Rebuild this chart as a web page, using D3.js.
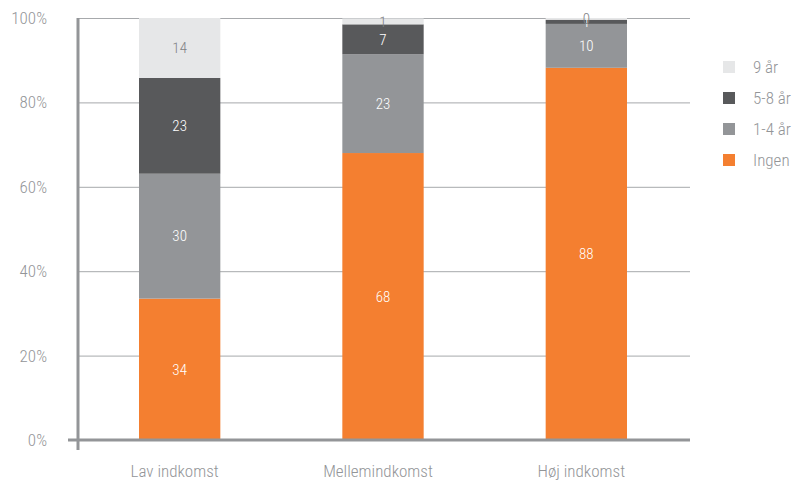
<!DOCTYPE html>
<html><head><meta charset="utf-8">
<script src="https://cdn.jsdelivr.net/npm/d3@7"></script>
<style>
body{margin:0;background:#fff;}
text{font-family:"Roboto Condensed","Liberation Sans Narrow","Roboto",sans-serif;font-weight:300;}
</style></head>
<body><svg id="c" width="796" height="482"></svg>
<script>
const categories = ["Lav indkomst","Mellemindkomst","Høj indkomst"];
const seriesNames = ["Ingen","1-4 år","5-8 år","9 år"];
const ingen = [33.5, 68.0, 88.2];
const aar1_4 = [29.6, 23.4, 10.4];
const aar5_8 = [22.7, 7.1, 1.0];
const aar9 = [14.2, 1.4, 0.4];
const yTicks = [0,20,40,60,80,100];
const colors = ["#F47F30","#939598","#58595B","#E6E7E8"];
const labelColors = ["#fff","#fff","#fff","#808285"];

const svg = d3.select("#c");
const x0 = 78, x1 = 688, yTop = 18, yBot = 440;
const x = d3.scaleBand().domain(categories).range([x0, x1]).paddingInner(0.6).paddingOuter(0.3);
const y = d3.scaleLinear().domain([0,100]).range([yBot, yTop]);

const rows = categories.map((c,i)=>({cat:c, "Ingen":ingen[i], "1-4 år":aar1_4[i], "5-8 år":aar5_8[i], "9 år":aar9[i]}));
const stack = d3.stack().keys(seriesNames)(rows);

// gridlines
svg.append("g").selectAll("line").data(yTicks.filter(d=>d>0)).join("line")
  .attr("x1", x0).attr("x2", 690).attr("y1", d=>y(d)+0.5).attr("y2", d=>y(d)+0.5)
  .attr("stroke", "#a7a9ac").attr("stroke-width", 1);

// bars
stack.forEach((s,k)=>{
  svg.append("g").selectAll("rect").data(s).join("rect")
    .attr("x", d=>x(d.data.cat)).attr("width", x.bandwidth())
    .attr("y", d=>y(d[1])).attr("height", d=>y(d[0])-y(d[1]))
    .attr("fill", colors[k]);
});

// labels
stack.forEach((s,k)=>{
  svg.append("g").selectAll("text").data(s).join("text")
    .attr("x", d=>x(d.data.cat)+x.bandwidth()/2)
    .attr("y", d=>(y(d[0])+y(d[1]))/2)
    .attr("dy","0.35em").attr("text-anchor","middle")
    .attr("font-size", 15).attr("fill", labelColors[k])
    .text(d=>Math.round(d[1]-d[0]));
});

// axes
svg.append("line").attr("x1",x0).attr("x2",x0).attr("y1",yTop).attr("y2",yBot+10)
  .attr("stroke","#939598").attr("stroke-width",3);
svg.append("line").attr("x1",68).attr("x2",690).attr("y1",yBot).attr("y2",yBot)
  .attr("stroke","#939598").attr("stroke-width",3);

// y tick labels
svg.append("g").selectAll("text").data(yTicks).join("text")
  .attr("x", 47).attr("y", d=>y(d)).attr("dy","0.35em").attr("text-anchor","end")
  .attr("font-size", 17).attr("fill","#939598").text(d=>d+"%");

// x labels
svg.append("g").selectAll("text").data(categories).join("text")
  .attr("x", d=>x(d)+x.bandwidth()/2 - 5).attr("y", 471).attr("dy","0.35em")
  .attr("text-anchor","middle").attr("font-size",17).attr("fill","#939598").text(d=>d);

// legend
const legOrder = seriesNames.map((n,i)=>({n, c:colors[i]})).reverse();
const lg = svg.append("g").selectAll("g").data(legOrder).join("g")
  .attr("transform",(d,i)=>`translate(723,${61+i*31})`);
lg.append("rect").attr("width",12).attr("height",12).attr("fill",d=>d.c);
lg.append("text").attr("x",30).attr("y",6).attr("dy","0.35em").attr("font-size",17)
  .attr("fill","#939598").text(d=>d.n);
</script></body></html>
